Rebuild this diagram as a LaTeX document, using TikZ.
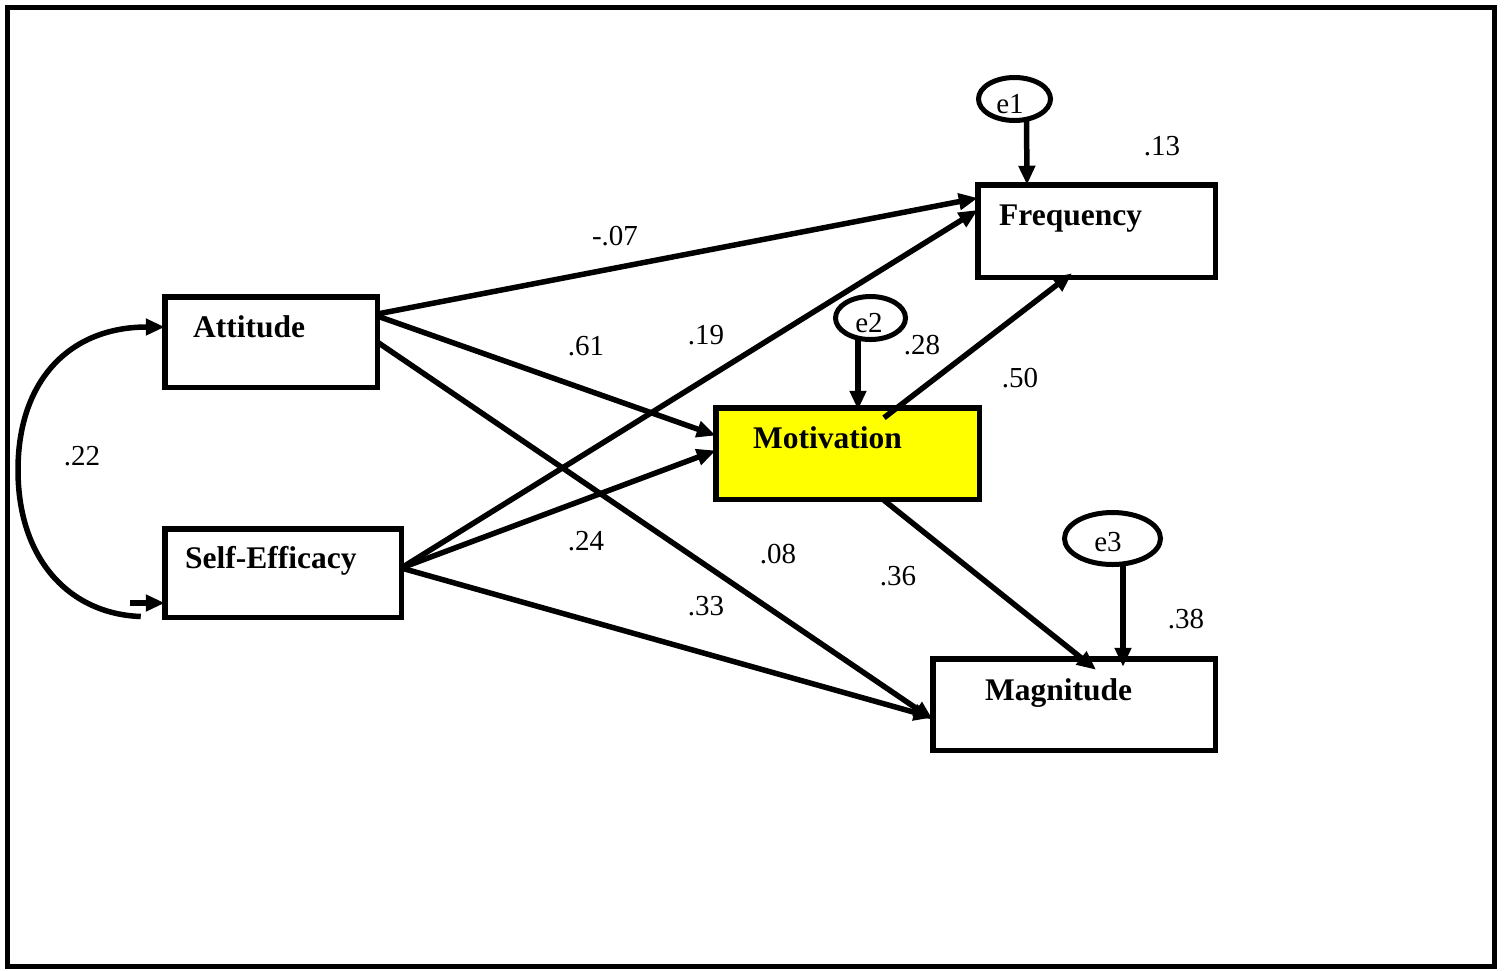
\documentclass[tikz,border=0pt]{standalone}
\usepackage{fontspec}
\setmainfont{Liberation Serif}
\usetikzlibrary{arrows.meta,shapes.geometric}
\definecolor{boxyellow}{RGB}{255,255,0}
\tikzset{
  box/.style={draw, line width=5.5pt, rectangle, inner sep=0pt, outer sep=0pt},
  err/.style={draw, line width=5pt, ellipse, inner sep=0pt, outer sep=0pt},
  path/.style={line width=5.5pt, -{Triangle[length=19pt,width=16pt]}},
  coef/.style={inner sep=0pt, font=\fontsize{29}{30}\selectfont},
  vname/.style={inner sep=0pt, anchor=base west, font=\fontsize{31.5}{32}\selectfont\bfseries},
}
\begin{document}
\begin{tikzpicture}[x=1pt,y=-1pt]
\useasboundingbox (0,0) rectangle (1504,970);
\draw[line width=5pt] (7.5,7.5) rectangle (1494.5,966.5);

% boxes
\node[box, minimum width=212.5pt, minimum height=90.5pt] (att) at (271,342) {};
\node[box, minimum width=236.5pt, minimum height=88.5pt] (se) at (283,573) {};
\node[box, fill=boxyellow, minimum width=263.5pt, minimum height=91.5pt] (mot) at (847.5,453.5) {};
\node[box, minimum width=237.5pt, minimum height=92.5pt] (freq) at (1096.5,231) {};
\node[box, minimum width=282.5pt, minimum height=91.5pt] (mag) at (1074,704.5) {};

\node[vname] (attT) at (193,337) {Attitude};
\node[vname] (seT) at (185,568) {Self-Efficacy};
\node[vname] (motT) at (753,448) {Motivation};
\node[vname] (freqT) at (999,225) {Frequency};
\node[vname] (magT) at (985,700) {Magnitude};

% error terms
\node[err, minimum width=72pt, minimum height=43pt] (e1) at (1014.5,99) {};
\node[err, minimum width=70pt, minimum height=43pt] (e2) at (870.5,318) {};
\node[err, minimum width=96pt, minimum height=52pt] (e3) at (1112.5,538.5) {};
\node[coef] (e1T) at (1010,104) {e1};
\node[coef] (e2T) at (869,323) {e2};
\node[coef] (e3T) at (1108,542) {e3};

% error arrows
\draw[path] ([xshift=12pt,yshift=3pt]e1.south) -- ([xshift=-69.5pt]freq.north);
\draw[path] ([xshift=-12.5pt,yshift=2pt]e2.south) -- ([xshift=10.5pt,yshift=-2pt]mot.north);
\draw[path] ([xshift=10.5pt]e3.south) -- ([xshift=49pt,yshift=-8pt]mag.north);

% structural paths
\draw[path] ([yshift=28pt]att.east) -- ([yshift=33pt]freq.west);
\draw[path] ([yshift=26pt]att.east) -- ([yshift=18pt]mot.west);
\draw[path] ([yshift=0pt]att.east) -- ([yshift=-15pt]mag.west);
\draw[path] ([yshift=5pt]se.east) -- ([yshift=21pt]freq.west);
\draw[path] ([yshift=5pt]se.east) -- ([yshift=3pt]mot.west);
\draw[path] ([yshift=5pt]se.east) -- ([yshift=-13pt]mag.west);
\draw[path] ([xshift=36.5pt,yshift=-10pt]mot.north) -- ([xshift=-24.5pt,yshift=4pt]freq.south);
\draw[path] ([xshift=36.5pt,yshift=-1pt]mot.south) -- ([xshift=22pt,yshift=-11pt]mag.north);

% covariance
\coordinate (cvA) at ([yshift=15pt]att.west);
\coordinate (cvS) at ([xshift=-24pt,yshift=-43.5pt]se.west);
\draw[path] (cvS) .. controls (70,614) and (18,560) .. (18,470)
  .. controls (18,380) and (70,327) .. (cvA);
\draw[path] ([xshift=-35pt,yshift=-30pt]se.west) -- ([yshift=-30pt]se.west);

% coefficients
\node[coef] (c1) at (615,236) {-.07};
\node[coef] (c2) at (586,346) {.61};
\node[coef] (c3) at (706,335) {.19};
\node[coef] (c4) at (922,345) {.28};
\node[coef] (c5) at (1020,378) {.50};
\node[coef] (c6) at (82,456) {.22};
\node[coef] (c7) at (586,541) {.24};
\node[coef] (c8) at (778,554) {.08};
\node[coef] (c9) at (898,576) {.36};
\node[coef] (c10) at (706,606) {.33};
\node[coef] (c11) at (1162,146) {.13};
\node[coef] (c12) at (1186,619) {.38};
\end{tikzpicture}
\end{document}
